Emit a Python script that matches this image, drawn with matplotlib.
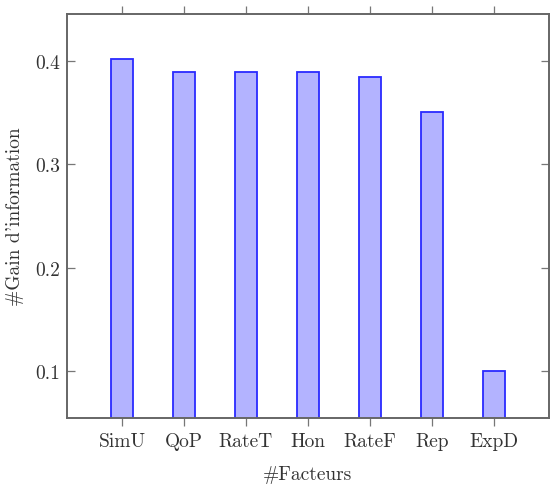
import matplotlib
matplotlib.use("Agg")
from matplotlib import pyplot as plt
import numpy as np

# data
facteurs = ["SimU", "QoP", "RateT", "Hon", "RateF", "Rep", "ExpD"]
gain = [0.402, 0.389, 0.389, 0.389, 0.385, 0.351, 0.100]
yticks = [0.1, 0.2, 0.3, 0.4]
ytick_labels = ["0.1", "0.2", "0.3", "0.4"]

plt.rcParams["font.family"] = "serif"
plt.rcParams["font.serif"] = ["cmr10", "DejaVu Serif"]
plt.rcParams["mathtext.fontset"] = "cm"
plt.rcParams["axes.formatter.use_mathtext"] = True

fs = 14

fig = plt.figure(figsize=(5.54, 4.89), dpi=100)
ax = fig.add_axes([67 / 554, 1 - 419 / 489, (549 - 67) / 554, (419 - 15) / 489])

x = np.arange(len(facteurs))
ax.bar(x, gain, width=0.34, color="#b3b3ff", edgecolor="#2a2aff", linewidth=1.3, zorder=2)

ax.set_xlim(-0.887, len(facteurs) - 1 + 0.887)
ax.set_ylim(0.0545, 0.4455)

ax.set_xticks(x)
ax.set_xticklabels(facteurs, fontsize=fs, color="#333333")
ax.set_yticks(yticks)
ax.set_yticklabels(ytick_labels, fontsize=fs, color="#333333")

ax.tick_params(axis="x", direction="out", length=6, width=0.9, color="#777777",
               top=True, bottom=True, pad=4)
ax.tick_params(axis="y", direction="in", length=6, width=0.9, color="#777777",
               left=True, right=True, pad=5)

for s in ax.spines.values():
    s.set_color("#666666")
    s.set_linewidth(1.4)

ax.set_xlabel("#Facteurs", fontsize=fs, color="#333333", labelpad=11)
ax.set_ylabel("#Gain d'information", fontsize=fs, color="#333333", labelpad=8)

fig.savefig("out.png", dpi=100)
